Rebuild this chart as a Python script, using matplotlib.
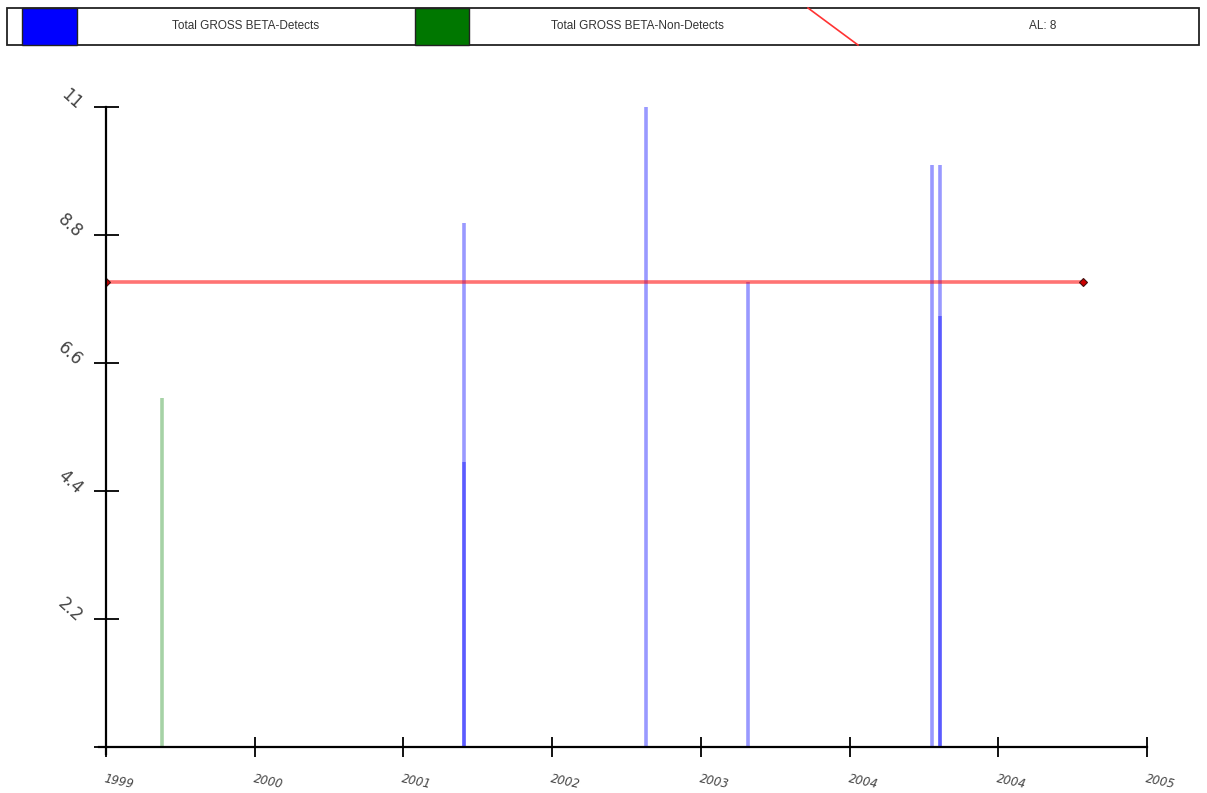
import matplotlib
matplotlib.use("Agg")
import matplotlib.pyplot as plt
from matplotlib.patches import Rectangle
from matplotlib.lines import Line2D

# ---- data ----
tick_positions = [0, 1, 2, 3, 4, 5, 6, 7]
tick_labels = ["1999", "2000", "2001", "2002", "2003", "2004", "2004", "2005"]
y_ticks = [2.2, 4.4, 6.6, 8.8, 11]
y_tick_labels = ["2.2", "4.4", "6.6", "8.8", "11"]

detect_x = [2.41, 2.41, 3.63, 4.32, 5.555, 5.61, 5.61]
detect_y = [9.0, 4.9, 11.0, 8.0, 10.0, 10.0, 7.4]
nondetect_x = [0.377]
nondetect_y = [6.0]
al_value = 8
al_x = [0.0, 6.57]

legend_labels = ["Total GROSS BETA-Detects", "Total GROSS BETA-Non-Detects", "AL: 8"]

W, H = 1207, 793
fig = plt.figure(figsize=(W / 100, H / 100), dpi=100)
ax = fig.add_axes([106 / W, 1 - 747 / H, (1147 - 106) / W, (747 - 107) / H])

ax.vlines(nondetect_x, 0, nondetect_y, colors="#008000", alpha=0.35, linewidth=2.6)
ax.vlines(detect_x, 0, detect_y, colors="#0000ff", alpha=0.4, linewidth=2.6)
ax.plot(al_x, [al_value, al_value], color="#ff0000", alpha=0.55, linewidth=2.6,
        solid_capstyle="butt")
ax.plot(al_x, [al_value, al_value], linestyle="none", marker="D", markersize=4.5,
        markerfacecolor="#cc0000", markeredgecolor="#441111", markeredgewidth=0.8)

ax.set_xlim(0, 7)
ax.set_ylim(0, 11)
for s in ["top", "right"]:
    ax.spines[s].set_visible(False)
ax.spines["left"].set_linewidth(1.6)
ax.spines["bottom"].set_linewidth(1.6)
ax.spines["left"].set_bounds(-0.12, 11)
ax.spines["bottom"].set_bounds(-0.05, 7)

ax.set_xticks(tick_positions)
ax.set_xticklabels(tick_labels, rotation=-12, ha="left", va="top",
                   fontsize=8.5, color="#444444", fontstyle="italic")
ax.set_yticks([0] + y_ticks)
ax.set_yticklabels([""] + y_tick_labels, rotation=-42, ha="right", va="center",
                   fontsize=12, color="#444444")
ax.tick_params(axis="x", direction="inout", length=14, width=1.3, pad=11)
ax.tick_params(axis="y", direction="inout", length=18, width=1.3, pad=10)
for lbl in ax.get_xticklabels():
    lbl.set_rotation_mode("anchor")
for lbl in ax.get_yticklabels():
    lbl.set_rotation_mode("anchor")
ax.patch.set_alpha(0)

# ---- legend bar at top ----
def fx(px):
    return px / W

def fy(py):
    return 1 - py / H

top, bot = 8, 45
fig.patches.append(Rectangle((fx(7), fy(bot)), fx(1199) - fx(7), fy(top) - fy(bot),
                             transform=fig.transFigure, facecolor="white",
                             edgecolor="#222222", linewidth=1.3))
fig.patches.append(Rectangle((fx(22), fy(bot)), fx(77) - fx(22), fy(top) - fy(bot),
                             transform=fig.transFigure, facecolor="#0000ff",
                             edgecolor="#222222", linewidth=1.0))
fig.patches.append(Rectangle((fx(415), fy(bot)), fx(469) - fx(415), fy(top) - fy(bot),
                             transform=fig.transFigure, facecolor="#007700",
                             edgecolor="#222222", linewidth=1.0))
fig.lines.append(Line2D([fx(808), fx(858)], [fy(top), fy(bot)], transform=fig.transFigure,
                        color="#ff3333", linewidth=1.2))
fig.text(fx(246), fy(26), legend_labels[0], ha="center", va="center", fontsize=8.5,
         color="#333333", family="Liberation Sans")
fig.text(fx(637), fy(26), legend_labels[1], ha="center", va="center", fontsize=8.5,
         color="#333333", family="Liberation Sans")
fig.text(fx(1043), fy(26), legend_labels[2], ha="center", va="center", fontsize=8.5,
         color="#333333", family="Liberation Sans")

fig.savefig("out.png", dpi=100)
